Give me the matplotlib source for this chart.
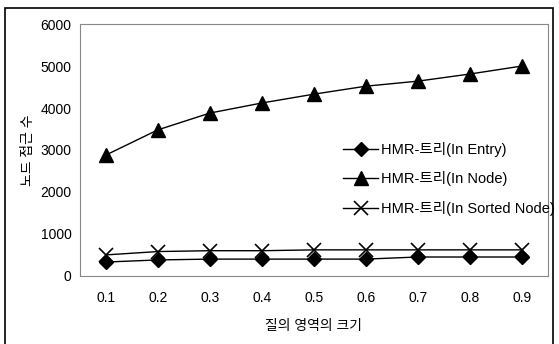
import matplotlib.pyplot as plt
from matplotlib.patches import Rectangle

plt.rcParams['font.family'] = ['Liberation Sans', 'Noto Sans CJK KR', 'DejaVu Sans']

# ------------------------------------------------
# Data
# ------------------------------------------------
query_sizes = ["0.1", "0.2", "0.3", "0.4", "0.5", "0.6", "0.7", "0.8", "0.9"]
in_entry = [330, 380, 400, 400, 400, 400, 450, 450, 450]
in_node = [2880, 3480, 3880, 4120, 4330, 4520, 4640, 4810, 5000]
in_sorted_node = [500, 580, 600, 600, 620, 620, 620, 620, 620]

labels = ["HMR-트리(In Entry)", "HMR-트리(In Node)", "HMR-트리(In Sorted Node)"]

# ------------------------------------------------
# Plot
# ------------------------------------------------
fig = plt.figure(figsize=(5.59, 3.44), dpi=100)
ax = fig.add_axes([0.143, 0.198, 0.837, 0.732])

x = range(len(query_sizes))
ax.plot(x, in_entry, color="black", lw=1, marker="D", ms=7.5, label=labels[0])
ax.plot(x, in_node, color="black", lw=1, marker="^", ms=10, label=labels[1])
ax.plot(x, in_sorted_node, color="black", lw=1, marker="x", ms=10, mew=1.2, label=labels[2])

ax.set_xlim(-0.5, len(query_sizes) - 0.5)
ax.set_ylim(0, 6000)
ax.set_yticks(range(0, 7000, 1000))
ax.set_xticks(list(x))
ax.set_xticklabels(query_sizes)
ax.tick_params(length=0, labelsize=10)
ax.tick_params(axis="x", pad=11)
ax.tick_params(axis="y", pad=6)

for side in ax.spines.values():
    side.set_color("#888888")
    side.set_linewidth(0.8)
    side.set_linestyle((0, (1, 1)))

ax.set_ylabel("노드 접근 수", fontsize=10, labelpad=4)
ax.set_xlabel("질의 영역의 크기", fontsize=10, labelpad=10)

ax.legend(loc="center left", bbox_to_anchor=(0.55, 0.385), frameon=False,
          fontsize=10.5, handlelength=2.4, handletextpad=0.2, labelspacing=1.0,
          borderaxespad=0)

# outer frame
fig.patches.append(Rectangle((0.009, -0.01), 0.98, 0.987, transform=fig.transFigure,
                             fill=False, edgecolor="black", lw=1.2))

fig.savefig("out.png", dpi=100)
